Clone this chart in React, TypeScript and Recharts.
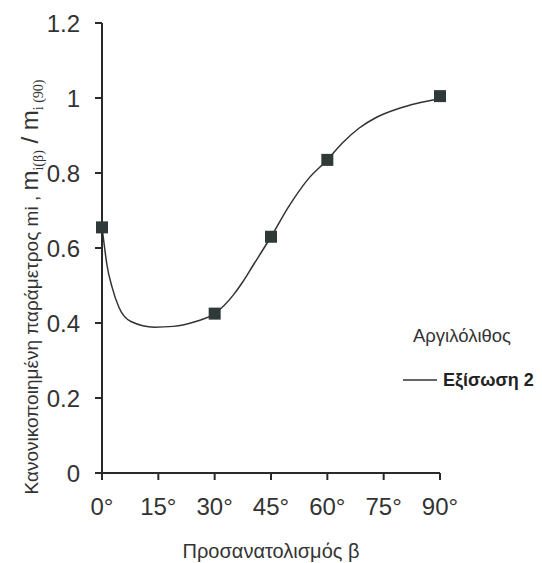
import React from 'react';
import { ComposedChart, Line, Scatter, XAxis, YAxis, Customized } from 'recharts';

// Measured points (orientation β in degrees, normalised mi)
const measuredAngles = [0, 30, 45, 60, 90];
const measuredValues = [0.655, 0.425, 0.63, 0.835, 1.005];

// "Εξίσωση 2" fitted curve
const curveAngles = [0, 0.7, 1.3, 2.7, 4.5, 7.7, 14, 19, 25, 30, 35, 37.5, 40, 45, 50, 55, 60, 64, 68.5, 73, 79, 84, 90];
const curveValues = [0.655, 0.6, 0.556, 0.495, 0.442, 0.404, 0.389, 0.391, 0.404, 0.425, 0.475, 0.51, 0.55, 0.63, 0.715, 0.785, 0.835, 0.88, 0.92, 0.948, 0.972, 0.986, 0.998];

const xTicks = [0, 15, 30, 45, 60, 75, 90];
const xTickLabels = ['0°', '15°', '30°', '45°', '60°', '75°', '90°'];
const yTicks = [0, 0.2, 0.4, 0.6, 0.8, 1, 1.2];
const yTickLabels = ['0', '0.2', '0.4', '0.6', '0.8', '1', '1.2'];

const xTitle = 'Προσανατολισμός β';
const legendTitle = 'Αργιλόλιθος';
const seriesName = 'Εξίσωση 2';

const measuredData = measuredAngles.map((x, i) => ({ x, y: measuredValues[i] }));
const curveData = curveAngles.map((x, i) => ({ x, y: curveValues[i] }));

const FONT = '"Liberation Sans", Arial, sans-serif';
const TEXT = '#333';
const AXIS = '#2a2a2a';
const MARK = '#2f3a38';

const Square = (props: any) => {
  const { cx, cy } = props;
  if (cx == null || cy == null) return null;
  return <rect x={cx - 6} y={cy - 6} width={12} height={12} fill={MARK} />;
};

const Annotations = () => (
  <g fontFamily={FONT} fill={TEXT}>
    <text
      transform="rotate(-90, 30, 279)"
      x={30}
      y={279}
      textAnchor="middle"
      fontSize={19}
    >
      Κανονικοποιημένη παράμετρος mi ,{' '}
      <tspan fontSize={24}>m</tspan>
      <tspan fontFamily="'Liberation Serif', serif" fontSize={14} dy={5}>i(β)</tspan>
      <tspan fontSize={24} dy={-5}> / m</tspan>
      <tspan fontFamily="'Liberation Serif', serif" fontSize={14} dy={5}>i (90)</tspan>
    </text>
    <text x={263} y={550} textAnchor="middle" fontSize={20}>{xTitle}</text>
    <text x={405} y={334} fontSize={18.5}>{legendTitle}</text>
    <line x1={395} y1={372} x2={429} y2={372} stroke={TEXT} strokeWidth={1.5} />
    <text x={435} y={378} fontSize={18} fontWeight="bold" fill="#222">{seriesName}</text>
  </g>
);

export default function App() {
  return (
    <ComposedChart
      width={534}
      height={555}
      margin={{ top: 15, right: 102, bottom: 0, left: 0 }}
      style={{ fontFamily: FONT }}
    >
      <XAxis
        dataKey="x"
        type="number"
        domain={[0, 90]}
        ticks={xTicks}
        tickFormatter={(v: number) => xTickLabels[xTicks.indexOf(v)] ?? String(v)}
        height={90}
        tickSize={7}
        tickMargin={18}
        stroke={AXIS}
        strokeWidth={2}
        tick={{ fontSize: 24, fill: TEXT, fontFamily: FONT }}
      />
      <YAxis
        type="number"
        domain={[0, 1.2]}
        ticks={yTicks}
        tickFormatter={(v: number) => yTickLabels[yTicks.indexOf(v)] ?? String(v)}
        width={94}
        tickSize={7}
        tickMargin={15}
        stroke={AXIS}
        strokeWidth={2}
        tick={{ fontSize: 24, fill: TEXT, fontFamily: FONT }}
      />
      <Line
        data={curveData}
        dataKey="y"
        type="monotone"
        stroke={TEXT}
        strokeWidth={1.5}
        dot={false}
        activeDot={false}
        isAnimationActive={false}
      />
      <Scatter
        data={measuredData}
        dataKey="y"
        shape={<Square />}
        isAnimationActive={false}
      />
      <Customized component={Annotations} />
    </ComposedChart>
  );
}
